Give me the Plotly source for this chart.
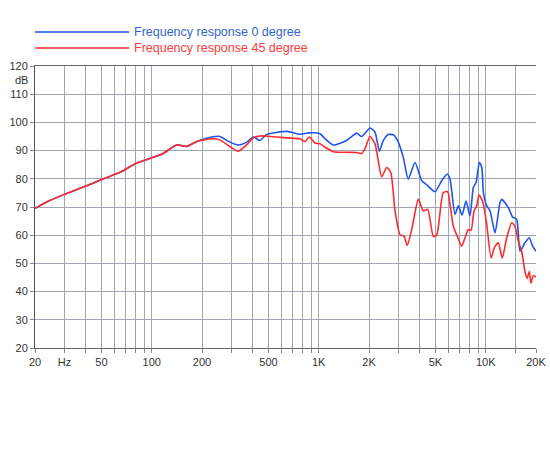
import plotly.graph_objects as go

# frequency response (Hz, dB)
freq_0deg = [20, 23.5, 29.5, 40.8, 51.3, 64.6, 81.3, 102, 117, 141, 162, 186, 233, 256, 294, 330,
             371, 406, 445, 488, 643, 773, 878, 1018, 1091, 1223, 1469, 1538, 1688, 1809, 2028,
             2173, 2307, 2438, 2611, 2800, 2995, 3208, 3437, 3770, 4138, 4429, 4970, 5447, 5884,
             6110, 6547, 6855, 7212, 7622, 8051, 8429, 8748, 9165, 9470, 9684, 10140, 10620,
             11360, 12170, 12470, 13650, 14500, 15320, 16040, 17180, 18230, 19100, 20000]
spl_0deg = [69.5, 71.8, 74.3, 77.5, 80, 82.3, 85.6, 87.6, 89, 92, 91.5, 93.2, 94.9, 95, 93, 92,
            93, 94.8, 93.6, 95.7, 96.8, 95.8, 96.3, 96, 94.2, 92, 93.6, 94.5, 96.2, 95, 98,
            96.5, 89.8, 93.6, 95.7, 95.6, 93, 87.6, 79.9, 85.8, 79.3, 77.9, 75.4, 79.3, 81.7,
            79.9, 67.4, 70.4, 67.1, 72.1, 66.8, 76.9, 78.7, 85.8, 84, 75.1, 70.4, 68.6,
            60.8, 71.5, 72.7, 69.8, 66.4, 65.6, 54.3, 57.3, 59.1, 56.1, 54.3]

freq_45deg = [20, 23.5, 29.5, 40.8, 51.3, 64.6, 81.3, 102, 117, 141, 162, 186, 233, 256, 294, 330,
              371, 406, 445, 488, 643, 773, 828, 878, 950, 1018, 1091, 1223, 1469, 1688, 1809,
              1894, 2028, 2173, 2383, 2553, 2698, 2864, 3068, 3243, 3390, 3605, 3948, 4229, 4493,
              4854, 5085, 5571, 5917, 6110, 6398, 6760, 7178, 7518, 7868, 8163, 8507, 8828, 9124,
              9470, 9684, 10140, 10770, 11250, 11890, 12560, 13360, 14310, 14960, 15670, 16420,
              17180, 17730, 18230, 18670, 19270, 20000]
spl_45deg = [69.5, 71.8, 74.3, 77.5, 80, 82.3, 85.6, 87.6, 89, 92, 91.5, 93.2, 94.2, 93.8, 91.4, 89.8,
             92.1, 94.5, 95.2, 95.1, 94.5, 94.2, 93.2, 94.8, 92.7, 92.4, 91.2, 89.6, 89.4, 89.3, 89,
             90.7, 95, 92.4, 80.7, 84, 82.3, 68.6, 60.2, 59.6, 56.4, 62, 72.7, 68.6, 69.2,
             59.6, 60, 75.1, 75.4, 71, 63.2, 59.6, 56.1, 59.1, 62, 61.7, 68.6, 70.4, 74.2,
             72.7, 71, 63.8, 51.9, 55.5, 57.3, 51.9, 59.1, 64.4, 63.2, 57.9, 54.3,
             47.1, 44.7, 47.1, 43, 45.6, 45.2]

grid_freqs = [20, 30, 40, 50, 60, 70, 80, 90, 100, 200, 300, 400, 500, 600, 700, 800, 900,
              1000, 2000, 3000, 4000, 5000, 6000, 7000, 8000, 9000, 10000, 15000, 20000]
labelled = {20: '20', 30: 'Hz', 50: '50', 100: '100', 200: '200', 500: '500',
            1000: '1K', 2000: '2K', 5000: '5K', 10000: '10K', 20000: '20K'}
grid_text = [labelled.get(f, '') for f in grid_freqs]

series_names = ['Frequency response 0 degree', 'Frequency response 45 degree']
line_colors = ['#1f55ee', '#ff2a2a']
text_colors = ['#3366cc', '#ff3b3b']

fig = go.Figure()
fig.add_trace(go.Scatter(x=freq_0deg, y=spl_0deg, mode='lines', name=series_names[0],
                         line=dict(color=line_colors[0], width=1.6, shape='spline', smoothing=0.6)))
fig.add_trace(go.Scatter(x=freq_45deg, y=spl_45deg, mode='lines', name=series_names[1],
                         line=dict(color=line_colors[1], width=1.6, shape='spline', smoothing=0.6)))

# hand drawn legend above the plot
for i, (name, lc, tc) in enumerate(zip(series_names, line_colors, text_colors)):
    yy = 1.121 - i * 0.057
    fig.add_shape(type='line', xref='paper', yref='paper', x0=0, x1=0.188, y0=yy, y1=yy,
                  line=dict(color=lc, width=1.5))
    fig.add_annotation(xref='paper', yref='paper', x=0.194, y=yy, text=name, showarrow=False,
                       xanchor='left', yanchor='middle', font=dict(color=tc, size=12.5))

fig.add_annotation(xref='paper', yref='y', x=0, y=115, text='dB', showarrow=False,
                   xanchor='right', xshift=-5, font=dict(size=11, color='#333'))

fig.update_xaxes(type='log', range=[1.30103, 4.30103], tickvals=grid_freqs, ticktext=grid_text,
                 showgrid=True, gridcolor='#a0a5b3', gridwidth=1.3, ticks='outside', ticklen=4,
                 tickcolor='#888', showline=True, linecolor='#666', linewidth=1, mirror=True,
                 tickfont=dict(size=11, color='#333'), zeroline=False, automargin=False,
                 ticklabeloverflow='allow')
fig.update_yaxes(range=[20, 120], dtick=10, showgrid=True, gridcolor='#a0a5b3', gridwidth=1.3,
                 ticks='outside', ticklen=4, tickcolor='#888', showline=True, linecolor='#555',
                 linewidth=1, tickfont=dict(size=11, color='#333'), zeroline=False, automargin=False)

fig.update_layout(width=550, height=450, margin=dict(l=35, r=14, t=66, b=102),
                  plot_bgcolor='white', paper_bgcolor='white', showlegend=False,
                  font=dict(family='Liberation Sans, Arial, sans-serif'))

# drop the default body margin so the figure sits at the top left of the page
fig.write_html('out.html', config={'displayModeBar': False},
               post_script="document.body.style.margin = '0';")
